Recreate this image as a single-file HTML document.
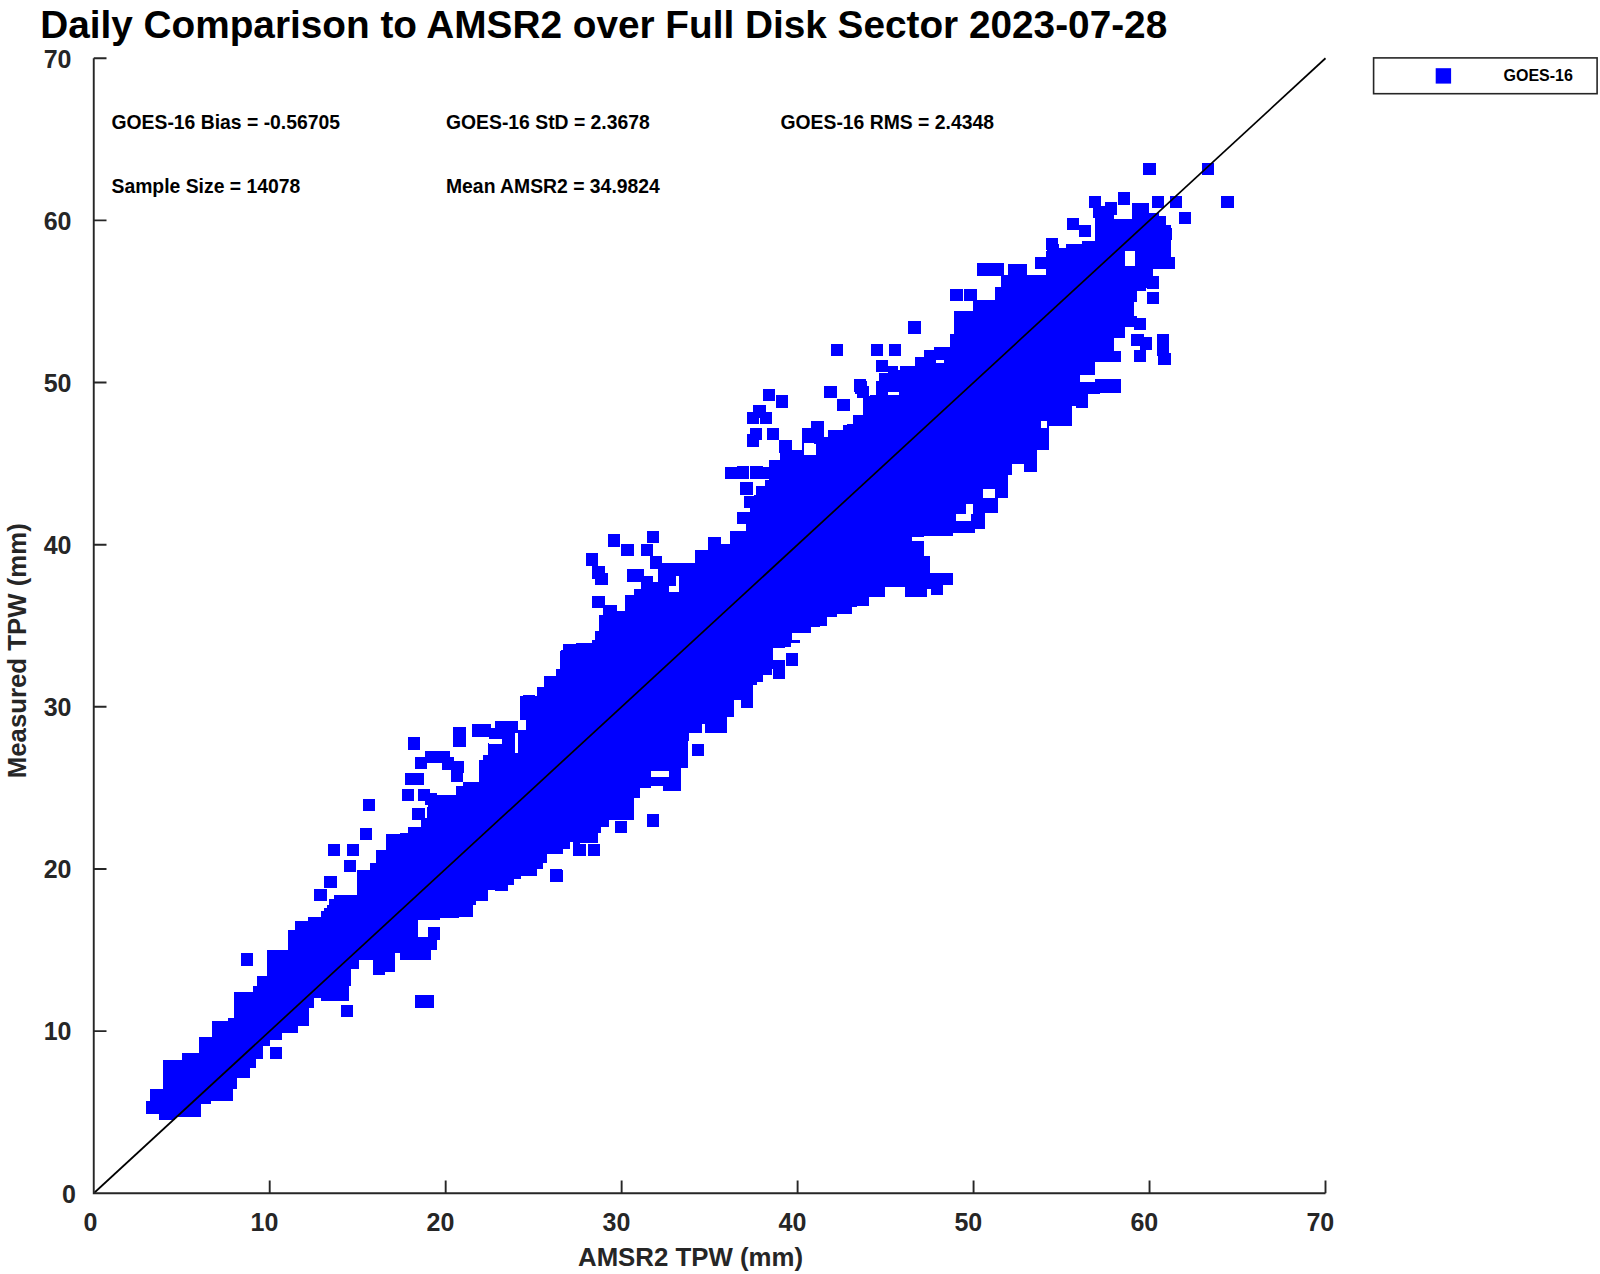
<!DOCTYPE html>
<html lang="en"><head><meta charset="utf-8"><title>Daily Comparison to AMSR2</title>
<style>html,body{margin:0;padding:0;background:#fff}svg{display:block}text{font-family:"Liberation Sans",Arial,Helvetica,sans-serif;font-weight:bold}.tk{font-size:25px;fill:#262626}.lb{font-size:25.8px;fill:#262626}.st{font-size:19.35px;fill:#000}.ti{font-size:38.5px;fill:#000}.lg{font-size:16px;fill:#000}</style></head><body>
<svg width="1600" height="1274" viewBox="0 0 1600 1274">
<rect width="1600" height="1274" fill="#fff"/>
<text class="ti" x="40.2" y="38.4" textLength="1127" lengthAdjust="spacingAndGlyphs">Daily Comparison to AMSR2 over Full Disk Sector 2023-07-28</text>
<path fill="#0000ff" shape-rendering="crispEdges" d="M146 1101h4v13h-4zM150 1089h9v25h-9zM159 1089h4v31h-4zM163 1060h12v60h-12zM175 1060h7v57h-7zM182 1053h17v64h-17zM199 1037h2v80h-2zM201 1037h10v67h-10zM211 1037h1v64h-1zM212 1021h16v80h-16zM228 1018h5v83h-5zM233 1018h1v71h-1zM234 992h3v97h-3zM237 992h13v86h-13zM250 992h3v76h-3zM253 986h3v82h-3zM256 986h1v73h-1zM257 976h6v83h-6zM263 976h4v70h-4zM267 950h3v96h-3zM270 950h12v90h-12zM282 950h6v83h-6zM288 930h7v103h-7zM295 921h3v112h-3zM298 921h11v105h-11zM309 918h5v90h-5zM314 918h7v80h-7zM321 911h6v90h-6zM327 905h7v96h-7zM334 895h15v106h-15zM349 895h2v91h-2zM351 895h8v74h-8zM359 895h2v64h-2zM361 885h3v74h-3zM364 880h9v79h-9zM373 880h12v95h-12zM385 880h10v92h-10zM395 880h13v70h-13zM408 880h21v79h-21zM429 880h8v69h-8zM437 880h3v59h-3zM440 880h5v38h-5zM445 880h14v34h-14zM459 880h14v37h-14zM473 880h15v21h-15zM488 880h12v10h-12zM400 833h8v127h-8zM408 827h12v132h-12zM420 827h8v129h-8zM428 795h2v161h-2zM430 795h7v155h-7zM437 795h3v144h-3zM440 795h18v123h-18zM458 786h1v132h-1zM459 786h4v131h-4zM463 782h10v135h-10zM473 782h6v119h-6zM479 761h9v140h-9zM488 743h7v146h-7zM495 743h7v148h-7zM502 733h6v158h-6zM508 733h6v149h-6zM514 753h4v123h-4zM518 730h8v146h-8zM526 712h11v164h-11zM537 689h6v180h-6zM543 689h4v173h-4zM547 689h10v165h-10zM557 670h4v184h-4zM561 650h2v204h-2zM563 644h7v205h-7zM570 644h6v197h-6zM576 643h17v200h-17zM593 640h5v203h-5zM598 640h3v193h-3zM601 640h8v187h-8zM609 640h12v180h-12zM621 640h13v180h-13zM634 640h6v158h-6zM640 640h11v148h-11zM651 640h12v146h-12zM663 640h18v151h-18zM681 640h7v128h-7zM688 640h1v101h-1zM689 640h13v93h-13zM702 640h3v84h-3zM705 640h22v93h-22zM727 640h7v77h-7zM734 640h4v50h-4zM738 640h18v45h-18zM756 640h6v41h-6zM762 640h10v35h-10zM772 640h12v9h-12zM784 640h16v3h-16zM280 950h8v10h-8zM288 931h7v29h-7zM295 921h13v39h-13zM308 917h13v43h-13zM321 915h3v45h-3zM324 908h5v52h-5zM329 899h5v61h-5zM334 895h23v65h-23zM357 870h13v90h-13zM370 863h6v97h-6zM376 850h10v110h-10zM386 834h7v126h-7zM393 834h11v119h-11zM404 837h4v116h-4zM408 831h4v129h-4zM412 827h9v133h-9zM421 818h6v142h-6zM427 807h4v153h-4zM431 807h5v143h-5zM436 795h4v145h-4zM440 795h4v123h-4zM444 795h12v122h-12zM456 786h7v131h-7zM463 782h9v135h-9zM472 782h4v123h-4zM476 782h3v119h-3zM479 760h4v141h-4zM483 755h5v146h-5zM488 755h1v134h-1zM489 728h6v161h-6zM495 721h13v170h-13zM508 721h6v164h-6zM514 721h4v158h-4zM518 730h3v149h-3zM521 730h6v146h-6zM527 720h10v156h-10zM537 720h6v149h-6zM543 720h4v143h-4zM547 720h16v133h-16zM563 720h6v129h-6zM569 720h4v122h-4zM573 720h7v136h-7zM700 551h8v149h-8zM708 538h13v162h-13zM721 545h9v155h-9zM730 531h4v169h-4zM734 531h12v169h-12zM746 518h7v182h-7zM753 518h1v167h-1zM754 501h3v184h-3zM757 486h6v196h-6zM763 486h6v183h-6zM769 460h4v209h-4zM773 460h7v186h-7zM780 440h5v206h-5zM785 440h7v203h-7zM792 450h10v183h-10zM802 428h9v205h-9zM811 428h1v198h-1zM812 421h12v205h-12zM824 437h3v189h-3zM827 437h1v180h-1zM828 430h9v187h-9zM837 430h6v184h-6zM843 425h9v189h-9zM852 425h1v182h-1zM853 415h4v192h-4zM857 415h6v191h-6zM863 396h6v210h-6zM869 396h7v201h-7zM876 383h9v214h-9zM885 383h3v204h-3zM888 391h10v196h-10zM898 380h7v207h-7zM905 380h22v217h-22zM927 380h4v209h-4zM931 380h12v215h-12zM943 380h10v205h-10zM953 380h22v153h-22zM975 380h10v149h-10zM985 380h13v133h-13zM998 380h10v118h-10zM1008 380h4v95h-4zM1012 380h12v84h-12zM1024 380h13v92h-13zM1037 380h12v70h-12zM1049 380h20v46h-20zM1069 380h3v40h-3zM1072 380h16v26h-16zM1088 380h12v14h-12zM900 366h15v94h-15zM915 357h10v103h-10zM925 351h9v109h-9zM934 347h16v113h-16zM950 335h4v125h-4zM954 312h19v148h-19zM973 300h22v160h-22zM995 287h6v173h-6zM1001 275h36v185h-36zM1037 275h9v175h-9zM1046 251h3v199h-3zM1049 251h8v175h-8zM1057 248h9v178h-9zM1066 244h6v182h-6zM1072 244h4v161h-4zM1076 244h6v164h-6zM1082 241h6v167h-6zM1088 241h7v152h-7zM1095 218h6v175h-6zM1101 215h13v178h-13zM1114 219h7v174h-7zM1121 219h4v119h-4zM1125 219h7v108h-7zM1132 203h3v124h-3zM1135 203h11v127h-11zM1146 203h3v85h-3zM1149 213h10v75h-10zM1159 225h12v44h-12zM1171 257h4v12h-4zM520 696h17v24h-17zM537 689h7v31h-7zM544 676h12v44h-12zM556 669h4v51h-4zM560 651h3v69h-3zM563 644h13v76h-13zM576 650h3v70h-3zM579 643h13v77h-13zM592 640h3v80h-3zM595 631h4v89h-4zM599 615h4v105h-4zM603 605h14v115h-14zM617 611h8v109h-8zM625 595h9v125h-9zM634 589h7v131h-7zM641 576h11v144h-11zM652 582h6v138h-6zM658 563h37v157h-37zM695 550h13v170h-13zM708 537h13v183h-13zM721 544h3v176h-3zM724 544h3v172h-3zM727 544h4v163h-4zM731 531h3v176h-3zM734 531h4v161h-4zM738 531h9v160h-9zM747 518h3v173h-3zM750 504h4v181h-4zM754 495h2v190h-2zM756 495h0v187h0zM756 486h7v196h-7zM763 486h2v189h-2zM765 480h2v195h-2zM767 480h6v189h-6zM773 480h12v199h-12zM785 480h6v167h-6zM791 480h20v153h-20zM811 480h9v147h-9zM780 441h12v19h-12zM792 451h12v9h-12zM804 428h7v32h-7zM811 421h13v39h-13zM824 437h4v23h-4zM828 431h15v29h-15zM843 428h4v32h-4zM847 424h6v36h-6zM853 415h10v45h-10zM863 398h7v62h-7zM870 395h6v65h-6zM876 382h3v78h-3zM879 373h9v87h-9zM888 366h10v94h-10zM898 370h4v90h-4zM902 366h13v94h-13zM915 357h9v103h-9zM924 350h10v110h-10zM934 347h16v113h-16zM950 334h13v126h-13zM963 337h4v123h-4zM967 328h2v132h-2zM969 311h4v149h-4zM973 300h7v160h-7zM240.6 953.2h12.3v12.3h-12.3zM315.0 888.7h12.3v12.3h-12.3zM324.3 875.9h12.3v12.3h-12.3zM269.5 1047.0h12.3v12.3h-12.3zM340.6 1004.8h12.3v12.3h-12.3zM415.0 995.2h12.3v12.3h-12.3zM421.2 995.2h12.3v12.3h-12.3zM543.9 675.8h12.3v12.3h-12.3zM557.2 669.5h12.3v12.3h-12.3zM522.5 695.4h12.3v12.3h-12.3zM537.1 689.1h12.3v12.3h-12.3zM550.1 869.3h12.3v12.3h-12.3zM573.5 843.6h12.3v12.3h-12.3zM587.8 843.6h12.3v12.3h-12.3zM614.5 821.0h12.3v12.3h-12.3zM621.2 807.7h12.3v12.3h-12.3zM646.9 814.3h12.3v12.3h-12.3zM692.1 743.6h12.3v12.3h-12.3zM740.6 694.9h12.3v12.3h-12.3zM408.0 737.4h12.3v12.3h-12.3zM453.2 727.4h12.3v12.3h-12.3zM453.2 734.2h12.3v12.3h-12.3zM471.7 724.2h12.3v12.3h-12.3zM478.3 724.2h12.3v12.3h-12.3zM424.6 750.6h12.3v12.3h-12.3zM414.8 756.8h12.3v12.3h-12.3zM437.4 750.6h12.3v12.3h-12.3zM441.6 757.2h12.3v12.3h-12.3zM451.9 761.0h12.3v12.3h-12.3zM451.0 769.4h12.3v12.3h-12.3zM404.8 772.8h12.3v12.3h-12.3zM412.0 772.8h12.3v12.3h-12.3zM402.0 788.9h12.3v12.3h-12.3zM418.0 788.9h12.3v12.3h-12.3zM424.6 793.0h12.3v12.3h-12.3zM412.4 808.1h12.3v12.3h-12.3zM363.0 798.6h12.3v12.3h-12.3zM360.0 827.5h12.3v12.3h-12.3zM327.9 843.9h12.3v12.3h-12.3zM347.0 843.9h12.3v12.3h-12.3zM344.0 859.9h12.3v12.3h-12.3zM324.4 875.9h12.3v12.3h-12.3zM314.4 888.7h12.3v12.3h-12.3zM550.3 869.5h12.3v12.3h-12.3zM762.9 388.9h12.3v12.3h-12.3zM776.0 395.2h12.3v12.3h-12.3zM747.1 411.5h12.3v12.3h-12.3zM759.7 411.5h12.3v12.3h-12.3zM753.4 405.3h12.3v12.3h-12.3zM749.6 427.9h12.3v12.3h-12.3zM766.5 427.9h12.3v12.3h-12.3zM746.6 434.2h12.3v12.3h-12.3zM779.3 440.4h12.3v12.3h-12.3zM824.5 385.7h12.3v12.3h-12.3zM837.3 399.0h12.3v12.3h-12.3zM854.7 381.4h12.3v12.3h-12.3zM876.0 381.4h12.3v12.3h-12.3zM740.3 482.4h12.3v12.3h-12.3zM744.1 495.7h12.3v12.3h-12.3zM737.3 511.5h12.3v12.3h-12.3zM708.2 537.7h12.3v12.3h-12.3zM724.5 466.8h12.3v12.3h-12.3zM736.6 466.3h12.3v12.3h-12.3zM750.4 466.3h12.3v12.3h-12.3zM756.7 466.8h12.3v12.3h-12.3zM785.6 653.2h12.3v12.3h-12.3zM773.0 662.8h12.3v12.3h-12.3zM1088.6 195.7h12.3v12.3h-12.3zM1092.8 205.5h12.3v12.3h-12.3zM1104.9 202.2h12.3v12.3h-12.3zM1117.7 192.4h12.3v12.3h-12.3zM1066.5 217.8h12.3v12.3h-12.3zM1079.0 225.1h12.3v12.3h-12.3zM1143.3 163.0h12.3v12.3h-12.3zM1201.6 163.0h12.3v12.3h-12.3zM1221.2 195.7h12.3v12.3h-12.3zM1151.9 195.7h12.3v12.3h-12.3zM1169.5 195.7h12.3v12.3h-12.3zM1153.9 215.5h12.3v12.3h-12.3zM1159.4 228.1h12.3v12.3h-12.3zM1179.0 211.7h12.3v12.3h-12.3zM950.4 288.9h12.3v12.3h-12.3zM964.2 288.9h12.3v12.3h-12.3zM908.2 321.3h12.3v12.3h-12.3zM976.8 263.2h12.3v12.3h-12.3zM985.6 263.2h12.3v12.3h-12.3zM991.8 263.2h12.3v12.3h-12.3zM1008.2 263.7h12.3v12.3h-12.3zM1014.5 263.7h12.3v12.3h-12.3zM1034.6 257.0h12.3v12.3h-12.3zM1045.9 238.1h12.3v12.3h-12.3zM1047.1 244.4h12.3v12.3h-12.3zM1131.3 334.1h12.3v12.3h-12.3zM1140.1 337.4h12.3v12.3h-12.3zM1133.8 349.9h12.3v12.3h-12.3zM1156.9 334.1h12.3v12.3h-12.3zM1156.9 343.6h12.3v12.3h-12.3zM1158.2 352.9h12.3v12.3h-12.3zM1146.9 292.1h12.3v12.3h-12.3zM1133.8 317.8h12.3v12.3h-12.3zM1146.9 276.3h12.3v12.3h-12.3zM1161.4 256.5h12.3v12.3h-12.3zM608.1 534.2h12.3v12.3h-12.3zM621.3 544.0h12.3v12.3h-12.3zM647.1 530.8h12.3v12.3h-12.3zM640.5 544.0h12.3v12.3h-12.3zM650.1 556.2h12.3v12.3h-12.3zM585.6 553.4h12.3v12.3h-12.3zM592.2 566.2h12.3v12.3h-12.3zM595.3 572.8h12.3v12.3h-12.3zM592.2 595.6h12.3v12.3h-12.3zM626.5 569.4h12.3v12.3h-12.3zM631.6 569.4h12.3v12.3h-12.3zM640.5 576.0h12.3v12.3h-12.3zM736.8 511.5h12.3v12.3h-12.3zM743.7 495.5h12.3v12.3h-12.3zM740.4 482.3h12.3v12.3h-12.3zM543.6 675.9h12.3v12.3h-12.3zM556.8 669.5h12.3v12.3h-12.3zM519.5 695.8h12.3v12.3h-12.3zM525.2 695.8h12.3v12.3h-12.3zM536.5 686.8h12.3v12.3h-12.3zM740.5 695.5h12.3v12.3h-12.3zM785.6 653.4h12.3v12.3h-12.3zM772.6 666.1h12.3v12.3h-12.3zM908.3 321.5h12.3v12.3h-12.3zM831.0 343.7h12.3v12.3h-12.3zM870.8 343.7h12.3v12.3h-12.3zM888.9 343.7h12.3v12.3h-12.3zM875.9 360.1h12.3v12.3h-12.3zM853.6 379.3h12.3v12.3h-12.3zM856.8 385.6h12.3v12.3h-12.3zM824.2 385.7h12.3v12.3h-12.3zM837.2 398.7h12.3v12.3h-12.3zM776.1 395.5h12.3v12.3h-12.3zM875.9 382.4h12.3v12.3h-12.3zM953.5 311.4h12.3v12.3h-12.3zM959.8 311.4h12.3v12.3h-12.3z"/>
<path fill="#fff" shape-rendering="crispEdges" d="M418 925h9v12h-9zM419 921h7v15h-7zM651 771h18v6h-18zM418 920h22v7h-22zM418 927h10v10h-10zM515 733h3v20h-3zM489 739h13v5h-13zM808 444h8v11h-8zM912 537h12v4h-12zM924 536h6v20h-6zM930 536h24v37h-24zM983 489h12v9h-12zM966 504h7v10h-7zM956 514h15v7h-15zM773 648h12v11h-12zM1041 421h6v7h-6zM1080 375h15v7h-15zM1095 362h26v17h-26zM1114 338h7v13h-7zM1137 291h10v27h-10zM1134 302h3v14h-3zM1125 251h10v15h-10zM1153 269h6v7h-6zM669 586h10v6h-10zM676 576h3v10h-3zM773 650h13v10h-13zM804 443h10v12h-10zM888 392h11v3h-11zM936 360h8v3h-8z"/>
<line x1="93.75" y1="1193.25" x2="1325.50" y2="58.25" stroke="#000" stroke-width="1.7"/>
<path d="M93.75 58.25V1193.25H1325.50M93.75 1193.25v-12.75M93.75 1193.25h12.75M269.71 1193.25v-12.75M93.75 1031.11h12.75M445.68 1193.25v-12.75M93.75 868.96h12.75M621.64 1193.25v-12.75M93.75 706.82h12.75M797.61 1193.25v-12.75M93.75 544.68h12.75M973.57 1193.25v-12.75M93.75 382.54h12.75M1149.54 1193.25v-12.75M93.75 220.39h12.75M1325.50 1193.25v-12.75M93.75 58.25h12.75" fill="none" stroke="#262626" stroke-width="1.9" stroke-linecap="butt"/>
<text class="tk" x="90.35" y="1230.75" text-anchor="middle">0</text>
<text class="tk" x="75.9" y="1202.55" text-anchor="end">0</text>
<text class="tk" x="264.51" y="1230.75" text-anchor="middle">10</text>
<text class="tk" x="71.5" y="1040.41" text-anchor="end">10</text>
<text class="tk" x="440.48" y="1230.75" text-anchor="middle">20</text>
<text class="tk" x="71.5" y="878.26" text-anchor="end">20</text>
<text class="tk" x="616.44" y="1230.75" text-anchor="middle">30</text>
<text class="tk" x="71.5" y="716.12" text-anchor="end">30</text>
<text class="tk" x="792.41" y="1230.75" text-anchor="middle">40</text>
<text class="tk" x="71.5" y="553.98" text-anchor="end">40</text>
<text class="tk" x="968.37" y="1230.75" text-anchor="middle">50</text>
<text class="tk" x="71.5" y="391.84" text-anchor="end">50</text>
<text class="tk" x="1144.34" y="1230.75" text-anchor="middle">60</text>
<text class="tk" x="71.5" y="229.69" text-anchor="end">60</text>
<text class="tk" x="1320.30" y="1230.75" text-anchor="middle">70</text>
<text class="tk" x="71.5" y="67.55" text-anchor="end">70</text>
<text class="lb" x="578" y="1266.25">AMSR2 TPW (mm)</text>
<text class="lb" transform="translate(26.4 778.3) rotate(-90)">Measured TPW (mm)</text>
<text class="st" x="111.5" y="129.2">GOES-16 Bias = -0.56705</text>
<text class="st" x="446" y="129.2">GOES-16 StD = 2.3678</text>
<text class="st" x="780.5" y="129.2">GOES-16 RMS = 2.4348</text>
<text class="st" x="111.5" y="193.3">Sample Size = 14078</text>
<text class="st" x="446" y="193.3">Mean AMSR2 = 34.9824</text>
<rect x="1373.6" y="57.9" width="223.5" height="35.8" fill="#fff" stroke="#262626" stroke-width="1.6"/>
<rect x="1435.7" y="68.2" width="15.4" height="15.4" fill="#0000ff"/>
<text class="lg" x="1503.5" y="80.7">GOES-16</text>
</svg></body></html>
